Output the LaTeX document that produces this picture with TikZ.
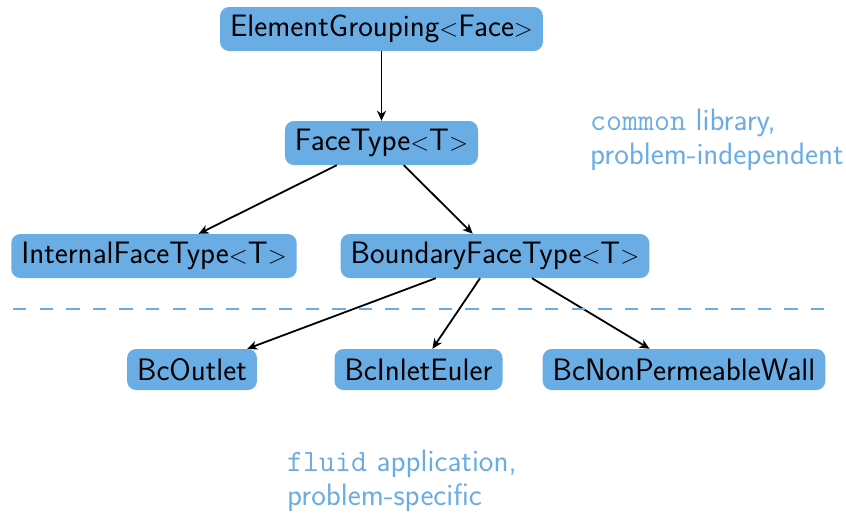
\documentclass[tikz,border=0pt]{standalone}
\usepackage{fontspec}
\setmainfont{Latin Modern Sans}
\setmonofont{Latin Modern Mono}
\usetikzlibrary{arrows.meta}
\definecolor{lblue}{RGB}{106,172,228}
\tikzset{
  cls/.style={fill=lblue, rounded corners=9pt, inner xsep=10pt, minimum height=44pt, text=black, font=\fontsize{31}{36}\selectfont},
  clsb/.style={cls, minimum height=41pt},
  arr/.style={-{Stealth[length=10pt,width=9pt,inset=3pt]}, line width=1.8pt},
  note/.style={text=lblue, align=left, anchor=north west, font=\fontsize{31}{34}\selectfont, inner sep=0pt}
}
\begin{document}
\begin{tikzpicture}[x=1pt,y=-1pt]
\useasboundingbox (0,0) rectangle (846,514);
\node[cls] (eg) at (381.5,29) {ElementGrouping$<$Face$>$};
\node[cls] (ft) at (381.5,143) {FaceType$<$T$>$};
\node[cls] (ift) at (154,256) {InternalFaceType$<$T$>$};
\node[cls] (bft) at (495,256) {BoundaryFaceType$<$T$>$};
\node[clsb] (bo) at (192,369.5) {BcOutlet};
\node[clsb] (bi) at (418.5,369.5) {BcInletEuler};
\node[clsb] (bn) at (684,369.5) {BcNonPermeableWall};
\draw[arr] (eg) -- (ft);
\draw[arr] (ft) -- (ift);
\draw[arr] (ft) -- (bft);
\draw[arr] (bft) -- (bo);
\draw[arr] (bft) -- (bi);
\draw[arr] (bft) -- (bn);
\coordinate (dl) at (13,309);
\coordinate (dr) at (826,309);
\draw[lblue, line width=2pt, dash pattern=on 13.3pt off 13.3pt] (dl) -- (dr);
\node[note] (n1) at (590,109) {\texttt{common} library,\\problem-independent};
\node[note] (n2) at (287,450) {\texttt{fluid} application,\\problem-specific};
\end{tikzpicture}
\end{document}
